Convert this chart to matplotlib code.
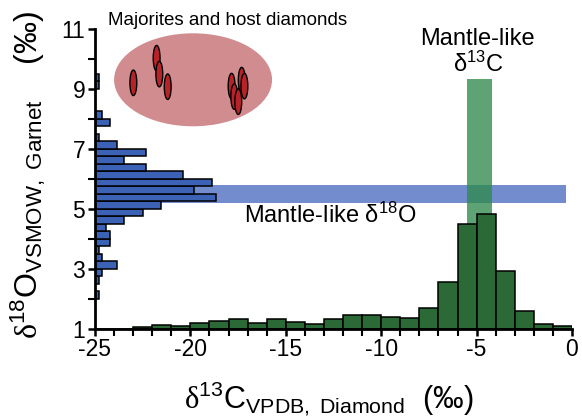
import matplotlib
matplotlib.use("Agg")
import matplotlib.pyplot as plt
from matplotlib.patches import Ellipse, Rectangle
import numpy as np

plt.rcParams['font.family'] = ['Liberation Sans', 'DejaVu Sans']
plt.rcParams['mathtext.fontset'] = 'custom'
plt.rcParams['mathtext.rm'] = 'Liberation Serif'
plt.rcParams['mathtext.sf'] = 'Liberation Sans'
plt.rcParams['mathtext.it'] = 'Liberation Sans:italic'

# ---- data ----
# diamond d13C histogram (bin left edges, width 1 permil) - counts
c13_bins = [-25, -24, -23, -22, -21, -20, -19, -18, -17, -16, -15, -14, -13,
            -12, -11, -10, -9, -8, -7, -6, -5, -4, -3, -2, -1]
c13_counts = [0, 0, 1, 3, 2, 5, 7, 8, 5, 8, 6, 4, 8,
              12, 12, 10, 9, 18, 41, 92, 100, 50, 15, 4, 2]

# garnet d18O histogram (bin lower edges, width 0.25 permil) - counts
o18_bins = [2.0, 2.25, 2.5, 2.75, 3.0, 3.25, 3.5, 3.75, 4.0, 4.25, 4.5, 4.75,
            5.0, 5.25, 5.5, 5.75, 6.0, 6.25, 6.5, 6.75, 7.0, 7.25, 7.5, 7.75,
            8.0, 8.25, 8.5, 8.75, 9.0, 9.25]
o18_counts = [1, 0, 1, 2, 6, 2, 1, 4, 4, 3, 8, 13,
              18, 33, 27, 32, 24, 14, 8, 14, 6, 1, 0, 4,
              2, 0, 0, 0, 1, 1]

# mantle ranges
mantle_c13 = (-5.5, -4.2)
mantle_o18 = (5.2, 5.8)

# majorite/diamond pairs (schematic)
pair_c13 = [-22.99, -21.77, -21.63, -21.19, -17.84, -17.31, -17.17, -17.70, -17.49]
pair_o18 = [9.19, 10.01, 9.48, 9.06, 9.08, 9.28, 9.08, 8.73, 8.56]

x_ticks = [-25, -20, -15, -10, -5, 0]
y_ticks = [1, 3, 5, 7, 9, 11]

# ---- figure ----
fig = plt.figure(figsize=(5.82, 4.18), dpi=100)
rect = [95/582, (418-328.5)/418, 477/582, 300/418]
ax = fig.add_axes(rect)
ax.set_xlim(-25, 0)
ax.set_ylim(1, 11)

# twin axes for histograms
axb = ax.twiny()
axb.set_xlim(0, 130.3)
axb.axis('off')
axg = ax.twinx()
axg.set_ylim(0, 263)
axg.axis('off')
ax.set_zorder(3)
ax.patch.set_visible(False)
axb.set_zorder(1)
axg.set_zorder(2)

blue = '#3b62b4'
green = '#2b6a37'

# bands
axb.add_patch(Rectangle((-25, mantle_o18[0]), 24.7, mantle_o18[1]-mantle_o18[0],
                        transform=ax.transData, facecolor='#4a6cc0', alpha=0.78,
                        edgecolor='none', zorder=0))
axg.add_patch(Rectangle((mantle_c13[0], 4.0), mantle_c13[1]-mantle_c13[0], 9.32-4.0,
                        transform=ax.transData, facecolor='#2f8a4c', alpha=0.78,
                        edgecolor='none', zorder=0))

axb.barh(o18_bins, o18_counts, height=0.25, left=0, align='edge',
         color=blue, edgecolor='black', linewidth=1.1, zorder=2)
axg.bar(c13_bins, c13_counts, width=1.0, align='edge',
        color=green, edgecolor='black', linewidth=1.1, zorder=2)

# inset ellipse
ax.add_patch(Ellipse((-19.86, 9.29), 8.28, 3.1, facecolor='#cc8084',
                     alpha=0.9, edgecolor='none', zorder=1))
for xp, yp in zip(pair_c13, pair_o18):
    ax.add_patch(Ellipse((xp, yp), 0.36, 0.85, facecolor='#b8232a',
                         edgecolor='black', linewidth=1.0, zorder=2))

# axes style
for s in ['top', 'right']:
    ax.spines[s].set_visible(False)
for s in ['left', 'bottom']:
    ax.spines[s].set_linewidth(2.0)
ax.set_xticks(x_ticks)
ax.set_xticklabels([str(v) for v in x_ticks])
ax.set_xticks(np.arange(-25, 1, 1), minor=True)
ax.set_yticks(y_ticks)
ax.set_yticklabels([str(v) for v in y_ticks])
ax.set_yticks(np.arange(1, 12, 1), minor=True)
ax.tick_params(which='both', direction='out', length=5, width=1.8, labelsize=16.5,
               pad=2)
ax.tick_params(which='minor', width=1.5)

ax.set_xlabel(r'$\mathrm{\delta}^{\mathsf{13}}$C$_{\mathsf{VPDB,\ Diamond}}$  (‰)',
              fontsize=22)
ax.xaxis.set_label_coords(0.49, -0.17)
ax.set_ylabel(r'$\mathrm{\delta}^{\mathsf{18}}$O$_{\mathsf{VSMOW,\ Garnet}}$    (‰)',
              fontsize=23)
ax.yaxis.set_label_coords(-0.098, 0.512)

ax.text(-18.03, 11.28, 'Majorites and host diamonds', ha='center', va='center',
        fontsize=13.5, clip_on=False)
ax.text(-4.93, 10.2, 'Mantle-like\nδ$^{\\mathsf{13}}$C', ha='center', va='center',
        fontsize=17, linespacing=1.1)
ax.text(-17.2, 4.78, 'Mantle-like δ$^{\\mathsf{18}}$O', ha='left', va='center',
        fontsize=17)

fig.savefig('out.png', dpi=100)
